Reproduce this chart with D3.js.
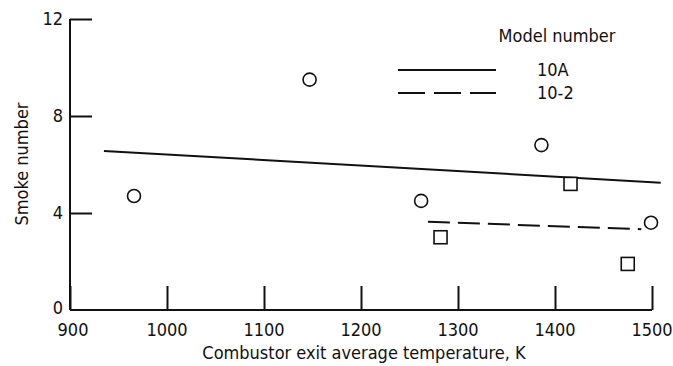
<!DOCTYPE html>
<html>
<head>
<meta charset="utf-8">
<script src="https://cdn.jsdelivr.net/npm/d3@7"></script>
<style>
  body { margin: 0; background: #fff; }
  text { font-family: "DejaVu Sans Condensed", "DejaVu Sans", sans-serif; fill: #111; font-size: 18px; }
</style>
</head>
<body>
<script>
// circles and squares
var circleTemp = [966, 1147, 1262, 1386, 1499];
var circleSmoke = [4.7, 9.5, 4.5, 6.8, 3.6];
var squareTemp = [1282, 1416, 1475];
var squareSmoke = [3.0, 5.2, 1.9];

// fitted lines, one per model
var models = ["10A", "10-2"];
var lineTemp = [[935, 1509], [1269, 1489]];
var lineSmoke = [[6.56, 5.25], [3.64, 3.33]];

var xTicks = [900, 1000, 1100, 1200, 1300, 1400, 1500];
var yTicks = [0, 4, 8, 12];

var width = 673, height = 366;

var svg = d3.select("body").append("svg")
    .attr("width", width)
    .attr("height", height);

var x = d3.scaleLinear().domain([900, 1500]).range([70, 652]);
var y = d3.scaleLinear().domain([0, 12]).range([310, 19]);

var ink = "#111";

// axes drawn with inward ticks like the original
var xAxis = svg.append("g")
    .attr("transform", "translate(0," + y(0) + ")")
    .call(d3.axisTop(x).tickValues(xTicks).tickSize(24).tickFormat(""));
xAxis.select(".domain").remove();
xAxis.selectAll("line").attr("stroke", ink).attr("stroke-width", 2);

svg.append("line")
    .attr("x1", x(900)).attr("x2", x(1500))
    .attr("y1", y(0)).attr("y2", y(0))
    .attr("stroke", ink).attr("stroke-width", 2);

var yAxis = svg.append("g")
    .attr("transform", "translate(" + x(900) + ",0)")
    .call(d3.axisRight(y).tickValues(yTicks.filter(d => d > 0)).tickSize(22).tickFormat(""));
yAxis.select(".domain").remove();
yAxis.selectAll("line").attr("stroke", ink).attr("stroke-width", 2);

svg.append("line")
    .attr("x1", x(900)).attr("x2", x(900))
    .attr("y1", y(0)).attr("y2", y(12))
    .attr("stroke", ink).attr("stroke-width", 2);

svg.selectAll(".xlab")
    .data(xTicks)
    .enter().append("text")
    .attr("class", "xlab")
    .attr("x", d => x(d) + (d === 900 ? 3 : 0))
    .attr("y", 336)
    .attr("text-anchor", "middle")
    .text(d => d);

svg.selectAll(".ylab")
    .data(yTicks)
    .enter().append("text")
    .attr("class", "ylab")
    .attr("x", 63)
    .attr("y", d => y(d) + (d === 0 ? 4 : 6))
    .attr("text-anchor", "end")
    .text(d => d);

svg.append("text")
    .attr("x", 364)
    .attr("y", 359)
    .attr("text-anchor", "middle")
    .text("Combustor exit average temperature, K");

svg.append("text")
    .attr("transform", "translate(28,164) rotate(-90)")
    .attr("text-anchor", "middle")
    .text("Smoke number");

// model lines
var dashes = [null, "22,8"];
models.forEach(function (m, i) {
    svg.append("line")
        .attr("x1", x(lineTemp[i][0])).attr("x2", x(lineTemp[i][1]))
        .attr("y1", y(lineSmoke[i][0])).attr("y2", y(lineSmoke[i][1]))
        .attr("stroke", ink).attr("stroke-width", 2)
        .attr("stroke-dasharray", dashes[i]);
});

svg.selectAll(".circ")
    .data(circleTemp)
    .enter().append("circle")
    .attr("class", "circ")
    .attr("cx", d => x(d))
    .attr("cy", (d, i) => y(circleSmoke[i]))
    .attr("r", 6.5)
    .attr("fill", "#fff")
    .attr("stroke", ink)
    .attr("stroke-width", 1.6);

svg.selectAll(".sq")
    .data(squareTemp)
    .enter().append("rect")
    .attr("class", "sq")
    .attr("x", d => x(d) - 6.5)
    .attr("y", (d, i) => y(squareSmoke[i]) - 6.5)
    .attr("width", 13)
    .attr("height", 13)
    .attr("fill", "#fff")
    .attr("stroke", ink)
    .attr("stroke-width", 1.6);

// legend
svg.append("text")
    .attr("x", 557)
    .attr("y", 42)
    .attr("text-anchor", "middle")
    .text("Model number");

var legendDash = [null, "27,9"];
models.forEach(function (m, i) {
    var ly = 70 + i * 23;
    svg.append("line")
        .attr("x1", 398).attr("x2", 496)
        .attr("y1", ly).attr("y2", ly)
        .attr("stroke", ink).attr("stroke-width", 2)
        .attr("stroke-dasharray", legendDash[i]);
    svg.append("text")
        .attr("x", 537)
        .attr("y", ly + 6)
        .text(m);
});
</script>
</body>
</html>
